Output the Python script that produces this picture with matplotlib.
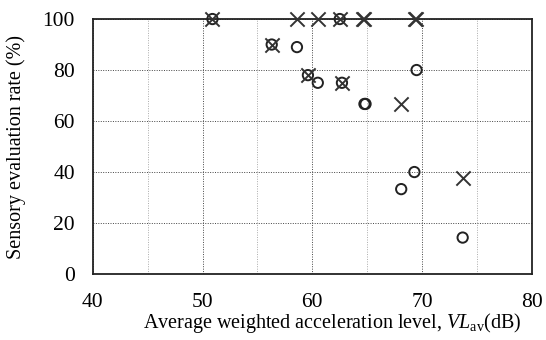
import matplotlib
matplotlib.use("Agg")
import matplotlib.pyplot as plt
from matplotlib.ticker import MultipleLocator

plt.rcParams['font.family'] = ['Liberation Serif', 'DejaVu Serif']
plt.rcParams['mathtext.fontset'] = 'custom'
plt.rcParams['mathtext.rm'] = 'Liberation Serif'
plt.rcParams['mathtext.it'] = 'Liberation Serif:italic'

# circle series: level (dB) vs evaluation rate (%)
circle_level = [50.9, 56.3, 58.6, 59.6, 60.5, 62.5, 62.7, 64.75, 64.85,
                69.5, 68.1, 69.3, 73.7]
circle_rate = [100, 90, 89, 78, 75, 100, 75, 66.7, 66.7,
               80, 33.3, 40, 14.3]

# cross series
cross_level = [50.9, 56.3, 58.6, 60.5, 62.5, 64.65, 64.75, 69.35, 69.45,
               59.6, 62.7, 68.1, 73.7]
cross_rate = [100, 90, 100, 100, 100, 100, 100, 100, 100,
              78, 75, 66.7, 37.5]

fig = plt.figure(figsize=(5.46, 3.40), dpi=100)
ax = fig.add_axes([0.170, 0.194, 0.804, 0.750])

ax.set_xlim(40, 80)
ax.set_ylim(0, 100)
ax.xaxis.set_major_locator(MultipleLocator(10))
ax.xaxis.set_minor_locator(MultipleLocator(5))
ax.yaxis.set_major_locator(MultipleLocator(20))

ax.grid(which='major', axis='both', color='#444444', linestyle=(0, (1, 1.5)), linewidth=0.7)
ax.grid(which='minor', axis='x', color='#aaaaaa', linestyle=(0, (1, 1.5)), linewidth=0.7)
ax.set_axisbelow(True)

ax.scatter(circle_level, circle_rate, s=55, marker='o', facecolors='none',
           edgecolors='#222222', linewidths=1.4, clip_on=False, zorder=3)
ax.scatter(cross_level, cross_rate, s=105, marker='x', color='#333333',
           linewidths=1.4, clip_on=False, zorder=4)

ax.tick_params(which='both', length=0, labelsize=15.5)
ax.tick_params(axis='x', pad=14)
ax.tick_params(axis='y', pad=13)
for s in ax.spines.values():
    s.set_linewidth(1.3)
    s.set_color('#222222')

ax.set_xlabel(r"Average weighted acceleration level, $\mathit{VL}_{\mathrm{av}}$(dB)",
              fontsize=14.5, labelpad=-1, x=0.545)
ax.set_ylabel("Sensory evaluation rate (%)", fontsize=14.5, labelpad=12)

fig.savefig("out.png", dpi=100)
